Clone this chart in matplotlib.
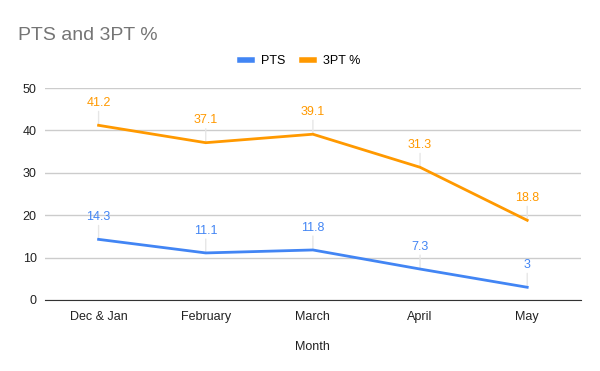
import matplotlib
matplotlib.use("Agg")
from matplotlib import pyplot as plt

months = ["Dec & Jan", "February", "March", "April", "May"]
pts = [14.3, 11.1, 11.8, 7.3, 3]
three_pt = [41.2, 37.1, 39.1, 31.3, 18.8]
pts_labels = ["14.3", "11.1", "11.8", "7.3", "3"]
three_pt_labels = ["41.2", "37.1", "39.1", "31.3", "18.8"]

BLUE = "#4285F4"
ORANGE = "#FF9900"

plt.rcParams["font.family"] = ["Liberation Sans", "DejaVu Sans"]

fig = plt.figure(figsize=(6, 3.71), dpi=100)
ax = fig.add_axes([0.075, 0.1914, 0.893, 0.5714])

x = list(range(len(months)))
ax.plot(x, pts, color=BLUE, lw=2, label="PTS", zorder=3)
ax.plot(x, three_pt, color=ORANGE, lw=2, label="3PT %", zorder=3)

# data labels with faint leader lines
for series, labels, color in [(pts, pts_labels, BLUE), (three_pt, three_pt_labels, ORANGE)]:
    for xi, v, lab in zip(x, series, labels):
        ax.annotate(lab, (xi, v), xytext=(0, 16), textcoords="offset points",
                    ha="center", va="center", color=color, fontsize=9, zorder=4)
        ax.annotate("", (xi, v), xytext=(0, 10), textcoords="offset points",
                    arrowprops=dict(arrowstyle="-", color="#e6e6e6", lw=1,
                                    shrinkA=0, shrinkB=0), zorder=2)

ax.set_xlim(-0.5, len(months) - 0.5)
ax.set_ylim(0, 50)
ax.set_yticks([0, 10, 20, 30, 40, 50])
ax.set_xticks(x)
ax.set_xticklabels(months)
ax.grid(axis="y", color="#cccccc", lw=1)
ax.set_axisbelow(True)
for s in ["top", "right", "left"]:
    ax.spines[s].set_visible(False)
ax.spines["bottom"].set_color("#333333")
ax.spines["bottom"].set_zorder(5)
ax.tick_params(length=0, labelsize=9, colors="#222222", pad=8)
ax.tick_params(axis="y", pad=6)
ax.set_xlabel("Month", fontsize=9, color="#222222", labelpad=13)

fig.text(0.03, 0.905, "PTS and 3PT %", fontsize=14, color="#757575", va="center")
fig.legend(loc="center", bbox_to_anchor=(0.5, 0.835), ncol=2, frameon=False,
           fontsize=9, handlelength=0.95, handleheight=0.5, columnspacing=1.35,
           handletextpad=0.72)
for line in fig.legends[0].get_lines():
    line.set_linewidth(4)

fig.savefig("out.png", dpi=100)
